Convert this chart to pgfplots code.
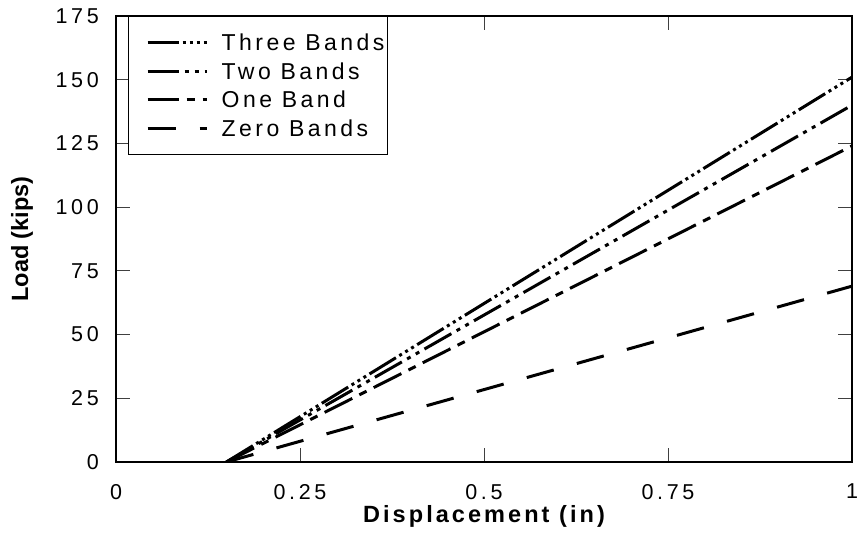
\documentclass[border=0pt]{standalone}
\usepackage{fontspec}
\setmainfont{Liberation Sans}
\newfontfamily\tkfont[LetterSpace=17]{Liberation Sans}
\newfontfamily\lgfont[LetterSpace=15]{Liberation Sans}
\newfontfamily\xlfont[LetterSpace=13]{Liberation Sans}
\usepackage{pgfplots}
\pgfplotsset{compat=1.18}
\begin{document}
\begin{tikzpicture}
\begin{axis}[name=ax, scale only axis, width=736pt, height=446pt,
  xmin=0, xmax=1, ymin=0, ymax=175,
  xtick={0,0.25,0.5,0.75,1}, xticklabels={0,0.25,0.5,0.75,1},
  ytick={0,25,50,75,100,125,150,175}, yticklabels={0,25,50,75,100,125,150,175},
  tick align=inside, tick pos=both, major tick length=14pt,
  tick style={line width=1pt, black!75},
  axis line style={line width=2pt},
  xticklabel style={font=\tkfont\fontsize{21.5}{25}\selectfont, inner sep=0pt, anchor=north, yshift=-22pt},
  yticklabel style={font=\tkfont\fontsize{21.5}{25}\selectfont, inner sep=0pt, anchor=east, xshift=-17pt},
  xlabel={Displacement (in)},
  xlabel style={font=\xlfont\bfseries\fontsize{23.5}{28}\selectfont, at={(axis description cs:0.5,0)}, anchor=base, inner sep=0pt, yshift=-61pt},
  ylabel={Load (kips)},
  ylabel style={font=\bfseries\fontsize{23.5}{28}\selectfont, at={(axis description cs:-0.1277,0.5)}, anchor=center, inner sep=0pt},
  legend cell align=left,
  legend image code/.code={\path[draw=none,fill=none] (-16pt,-14.25pt) rectangle (74pt,14.25pt); \draw[#1] (0pt,0pt) -- (59pt,0pt);},
  legend style={at={(axis description cs:0.0163,1)}, anchor=north west, draw=black, line width=1.5pt,
    font=\lgfont\fontsize{23}{27}\selectfont, inner xsep=3pt, inner ysep=12pt,
    row sep=0pt, nodes={inner sep=0pt}},
]
\addplot[line width=3pt, line cap=butt, dash pattern=on 31pt off 4pt on 3pt off 4pt on 3pt off 4pt on 3pt off 4pt] coordinates {(0.15,0) (1,151)};
\addlegendentry{Three Bands}
\addplot[line width=3pt, line cap=butt, dash pattern=on 31pt off 6pt on 4pt off 6pt on 4pt off 6pt] coordinates {(0.15,0) (1,140)};
\addlegendentry{Two Bands}
\addplot[line width=3pt, line cap=butt, dash pattern=on 31pt off 8pt on 8pt off 8pt] coordinates {(0.15,0) (1,124)};
\addlegendentry{One Band}
\addplot[line width=3pt, line cap=butt, dash pattern=on 28pt off 24pt] coordinates {(0.15,0) (1,69)};
\addlegendentry{Zero Bands}
\end{axis}
\path ([shift={(-116pt,-73pt)}]ax.south west) rectangle ([shift={(10pt,16pt)}]ax.north east);
\end{tikzpicture}
\end{document}
